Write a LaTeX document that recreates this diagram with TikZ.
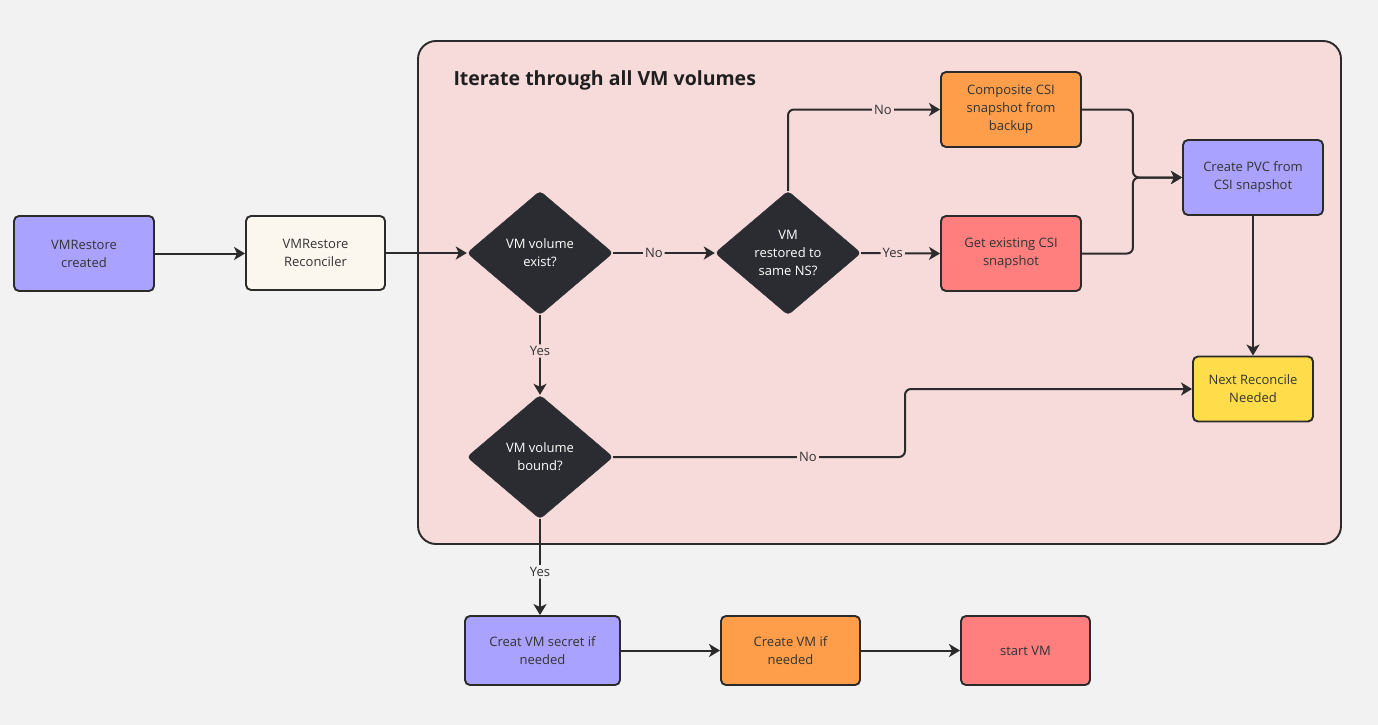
\documentclass[tikz,border=0pt]{standalone}
\usepackage{fontspec}
\setmainfont{Open Sans}
\usetikzlibrary{shapes.geometric,arrows.meta}
\definecolor{bggray}{HTML}{F2F2F2}
\definecolor{pinkbg}{HTML}{F7DADA}
\definecolor{lav}{HTML}{A9A3FF}
\definecolor{cream}{HTML}{FBF6EE}
\definecolor{darkd}{HTML}{2B2C31}
\definecolor{orng}{HTML}{FF9E4A}
\definecolor{salmon}{HTML}{FF7F7F}
\definecolor{yel}{HTML}{FFDD4A}
\definecolor{edgec}{HTML}{2B2B2B}
\definecolor{txt}{HTML}{333333}
\begin{document}
\begin{tikzpicture}[x=1pt,y=-1pt,
 box/.style={draw=edgec, line width=1.9pt, rounded corners=5pt, align=center, text=txt,
   font=\fontsize{13}{18}\selectfont, inner sep=0pt},
 dec/.style={diamond, draw=darkd, fill=darkd, rounded corners=4pt, minimum width=146pt,
   minimum height=124pt, inner sep=0pt, text=white, align=center, font=\fontsize{13}{18}\selectfont},
 conn/.style={draw=edgec, line width=2pt, -{Stealth[length=11pt,width=13pt,inset=3pt]}, rounded corners=6pt},
 lbl/.style={fill=pinkbg, text=txt, inner sep=2pt, font=\fontsize{13}{15}\selectfont},
 lblg/.style={lbl, fill=bggray},
 container/.style={draw=edgec, line width=1.9pt, fill=pinkbg, rounded corners=18pt, inner sep=0pt},
]
\useasboundingbox[fill=bggray] (0,0) rectangle (1378,725);

\node[container, minimum width=923pt, minimum height=503pt] (loop) at (879.5,292.5) {};
\node[anchor=west, text=black!88, font=\fontsize{19.5}{23}\selectfont\bfseries] (title) at (450,80) {Iterate through all VM volumes};

\node[box, fill=lav, minimum width=140pt, minimum height=75pt] (created) at (84,253.5) {VMRestore\\created};
\node[box, fill=cream, minimum width=139pt, minimum height=74pt] (recon) at (315.5,253) {VMRestore\\Reconciler};
\node[dec] (exist) at (540,253) {VM volume\\exist?};
\node[dec] (same) at (788,253) {VM\\restored to\\same NS?};
\node[box, fill=orng, minimum width=140pt, minimum height=75pt] (comp) at (1011,109.5) {\raisebox{-4pt}{\parbox{130pt}{\centering Composite CSI\\snapshot from\\backup}}};
\node[box, fill=salmon, minimum width=140pt, minimum height=75pt] (getex) at (1011,253.5) {Get existing CSI\\snapshot};
\node[box, fill=lav, minimum width=140pt, minimum height=75pt] (pvc) at (1253,177.5) {Create PVC from\\CSI snapshot};
\node[box, fill=yel, minimum width=120pt, minimum height=65pt] (next) at (1253,389) {Next Reconcile\\Needed};
\node[dec] (bound) at (540,457) {VM volume\\bound?};
\node[box, fill=lav, minimum width=155pt, minimum height=69pt] (secret) at (542.5,650.5) {Creat VM secret if\\needed};
\node[box, fill=orng, minimum width=139pt, minimum height=69pt] (mkvm) at (790.5,650.5) {Create VM if\\needed};
\node[box, fill=salmon, minimum width=129pt, minimum height=69pt] (start) at (1025.5,650.5) {start VM};

\draw[conn] (created.east) -- (created.east -| recon.west);
\draw[conn] (recon.east) -- (recon.east -| exist.west);
\draw[conn] (exist.east) -- node[lbl, pos=0.4] {No} (same.west);
\draw[conn] (same.north) |- (comp.west);
\node[lbl] (nolbl1) at (883,109.5) {No};
\draw[conn] (same.east) -- node[lbl, pos=0.4] {Yes} (getex.west);
\draw[conn] (comp.east) -- ++(51,0) |- (pvc.west);
\draw[conn] (getex.east) -- ++(51,0) |- (pvc.west);
\draw[conn] (pvc.south) -- (next.north);
\draw[conn] (exist.south) -- node[lbl, pos=0.45] {Yes} (bound.north);
\draw[conn] (bound.east) -- (905,457) |- (next.west);
\node[lbl] (nolbl2) at (808,457) {No};
\draw[conn] (bound.south) -- node[lblg, pos=0.55] {Yes} (bound.south |- secret.north);
\draw[conn] (secret.east) -- (mkvm.west);
\draw[conn] (mkvm.east) -- (start.west);
\end{tikzpicture}
\end{document}
